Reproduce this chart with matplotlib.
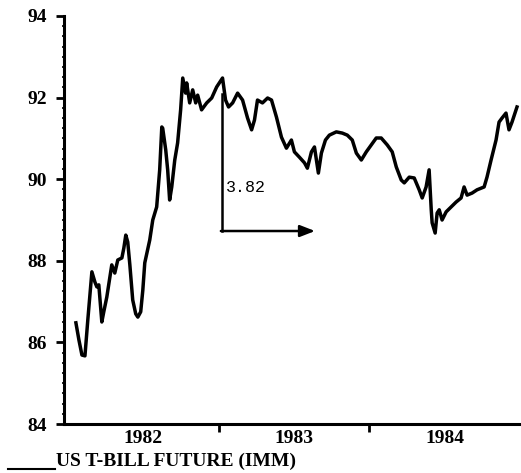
import matplotlib
matplotlib.use("Agg")
import matplotlib.pyplot as plt
from matplotlib.ticker import MultipleLocator, FixedLocator, NullFormatter

# US T-bill futures (IMM) price, decimal years
years = [1982.053, 1982.073, 1982.093, 1982.113, 1982.132, 1982.159, 1982.179, 1982.192,
         1982.205, 1982.225, 1982.238, 1982.258, 1982.291, 1982.311, 1982.331, 1982.358,
         1982.371, 1982.384, 1982.397, 1982.411, 1982.430, 1982.450, 1982.464, 1982.483,
         1982.497, 1982.510, 1982.543, 1982.563, 1982.589, 1982.609, 1982.623, 1982.629,
         1982.649, 1982.662, 1982.675, 1982.689, 1982.709, 1982.728, 1982.748, 1982.762,
         1982.781, 1982.788, 1982.808, 1982.828, 1982.848, 1982.861, 1982.887, 1982.921,
         1982.954, 1982.987, 1983.026, 1983.046, 1983.066, 1983.093, 1983.126, 1983.159,
         1983.192, 1983.219, 1983.238, 1983.258, 1983.291, 1983.325, 1983.351, 1983.384,
         1983.417, 1983.450, 1983.483, 1983.503, 1983.536, 1983.570, 1983.589, 1983.616,
         1983.636, 1983.649, 1983.662, 1983.682, 1983.709, 1983.735, 1983.781, 1983.821,
         1983.854, 1983.887, 1983.914, 1983.947, 1983.980, 1984.013, 1984.046, 1984.079,
         1984.119, 1984.152, 1984.179, 1984.212, 1984.232, 1984.265, 1984.298, 1984.331,
         1984.351, 1984.377, 1984.397, 1984.411, 1984.417, 1984.437, 1984.450, 1984.464,
         1984.483, 1984.510, 1984.543, 1984.576, 1984.609, 1984.629, 1984.649, 1984.682,
         1984.715, 1984.762, 1984.781, 1984.808, 1984.841, 1984.861, 1984.881, 1984.907,
         1984.927, 1984.947, 1984.980]
prices = [86.48, 86.06, 85.69, 85.67, 86.55, 87.73, 87.48, 87.36,
          87.41, 86.50, 86.75, 87.11, 87.90, 87.70, 88.02, 88.07,
          88.31, 88.63, 88.46, 87.90, 87.04, 86.70, 86.62, 86.75,
          87.28, 87.95, 88.51, 89.00, 89.32, 90.23, 91.28, 91.25,
          90.72, 90.23, 89.49, 89.81, 90.47, 90.89, 91.70, 92.48,
          92.11, 92.36, 91.87, 92.19, 91.87, 92.06, 91.70, 91.87,
          91.99, 92.26, 92.48, 91.94, 91.77, 91.87, 92.11, 91.94,
          91.50, 91.21, 91.45, 91.94, 91.87, 91.99, 91.94, 91.52,
          91.03, 90.76, 90.96, 90.67, 90.54, 90.40, 90.27, 90.67,
          90.79, 90.47, 90.15, 90.64, 90.96, 91.08, 91.16, 91.13,
          91.08, 90.96, 90.64, 90.47, 90.67, 90.84, 91.01, 91.01,
          90.84, 90.67, 90.30, 89.98, 89.91, 90.05, 90.03, 89.74,
          89.54, 89.81, 90.23, 89.25, 88.93, 88.68, 89.17, 89.25,
          89.00, 89.20, 89.32, 89.44, 89.54, 89.81, 89.61, 89.66,
          89.74, 89.81, 90.05, 90.47, 90.96, 91.40, 91.50, 91.62,
          91.21, 91.40, 91.77]

y_ticks = [84, 86, 88, 90, 92, 94]
year_labels = ["1982", "1983", "1984"]
year_label_pos = [1982.5, 1983.5, 1984.5]
year_bounds = [1983.0, 1984.0]

# measured move annotation
move_label = "3.82"
move_x0, move_x1 = 1983.02, 1983.64
move_top, move_bottom = 92.1, 88.73

serif = ["Liberation Serif", "DejaVu Serif"]

fig = plt.figure(figsize=(5.21, 4.73), dpi=100)
ax = fig.add_axes([64 / 521, (473 - 424) / 473, (520 - 64) / 521, (424 - 16) / 473])

ax.plot(years, prices, color="black", lw=2.5, solid_joinstyle="round")

ax.set_xlim(1981.974, 1985.0)
ax.set_ylim(84, 94)

for side in ("top", "right"):
    ax.spines[side].set_visible(False)
for side in ("left", "bottom"):
    ax.spines[side].set_linewidth(2.2)

ax.yaxis.set_major_locator(FixedLocator(y_ticks))
ax.yaxis.set_minor_locator(MultipleLocator(0.25))
ax.tick_params(axis="y", which="major", direction="out", length=6, width=2, pad=6)
ax.tick_params(axis="y", which="minor", direction="inout", length=3, width=1.2)
ax.set_yticklabels([str(v) for v in y_ticks], fontfamily=serif, fontsize=14, fontweight="bold")

ax.xaxis.set_major_locator(FixedLocator(year_bounds))
ax.xaxis.set_major_formatter(NullFormatter())
ax.xaxis.set_minor_locator(FixedLocator(year_label_pos))
ax.set_xticklabels(year_labels, minor=True, fontfamily=serif, fontsize=14, fontweight="bold")
ax.tick_params(axis="x", which="major", direction="out", length=6, width=2)
ax.tick_params(axis="x", which="minor", length=0, pad=4)

# measured move bracket and arrow
ax.plot([move_x0, move_x0], [move_top, move_bottom], color="black", lw=1.8)
ax.annotate("", xy=(move_x1, move_bottom), xytext=(move_x0 - 0.005, move_bottom),
            arrowprops=dict(arrowstyle="-|>,head_length=0.9,head_width=0.35",
                            color="black", lw=1.8, shrinkA=0, shrinkB=0))
ax.text(move_x0 + 0.03, 89.8, move_label, fontfamily=["Liberation Mono", "DejaVu Sans Mono"],
        fontsize=12, va="center", ha="left")

# series legend below the axis
fig.add_artist(plt.Line2D([8 / 521, 55 / 521], [1 - 469 / 473, 1 - 469 / 473],
                          color="black", lw=1.5))
fig.text(56 / 521, 1 - 461 / 473, "US T-BILL FUTURE (IMM)", fontfamily=serif,
         fontsize=14, fontweight="bold", va="center", ha="left")

fig.savefig("out.png", dpi=100, facecolor="white")
